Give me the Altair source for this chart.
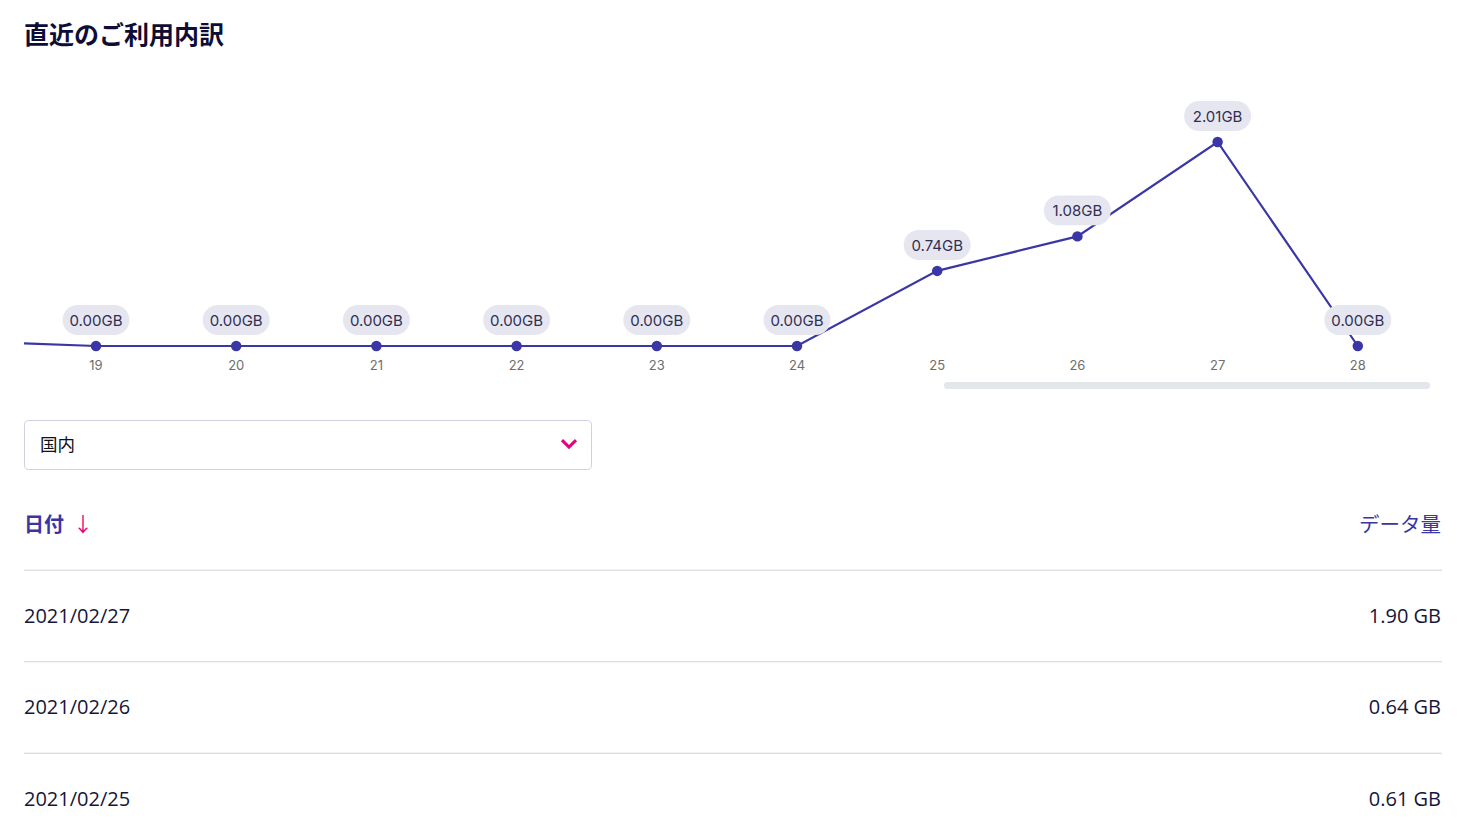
import altair as alt
import pandas as pd

# ---------------- data ----------------
days = [18, 19, 20, 21, 22, 23, 24, 25, 26, 27, 28]
usage_gb = [0.05, 0.00, 0.00, 0.00, 0.00, 0.00, 0.00, 0.74, 1.08, 2.01, 0.00]
tick_labels = ["19", "20", "21", "22", "23", "24", "25", "26", "27", "28"]

table_rows = [0, 1, 2]
table_dates = ["2021/02/27", "2021/02/26", "2021/02/25"]
table_amounts = ["1.90 GB", "0.64 GB", "0.61 GB"]

title_text = "直近のご利用内訳"
dropdown_text = "国内"
header_date = "日付"
header_amount = "データ量"

# ---------------- styling ----------------
W, H = 1418, 808
INK = "#3b36a6"
PILL = "#e6e6f1"
PINK = "#e6007e"
NAVY = "#16163a"
JP = "Noto Sans CJK JP"
LAT = "Inter"
TBL = "Open Sans"

line_df = pd.DataFrame({"day": days, "gb": usage_gb})
pt_df = line_df[line_df["day"] >= 19].copy().reset_index(drop=True)
pt_df["label"] = [f"{v:.2f}GB" for v in pt_df["gb"]]
pt_df["tick"] = tick_labels
pt_df["zero"] = 0.0

# 140.2 px per day, day 19 at plot x = 72
DX = 140.2
x0 = 19 - 72 / DX
xs = alt.Scale(domain=[x0, x0 + W / DX], nice=False, zero=False)
ys = alt.Scale(domain=[-4.6305, 3.3300], nice=False, zero=False)
ts = alt.Scale(domain=[-6.6448, 2.1858], reverse=True, nice=False, zero=False)

X = lambda f: alt.X(f, scale=xs, axis=None)
Y = lambda f: alt.Y(f, scale=ys, axis=None)

line = alt.Chart(line_df).mark_line(color=INK, strokeWidth=2.2, clip=True).encode(
    x=X("day:Q"), y=Y("gb:Q"))

points = alt.Chart(pt_df).mark_circle(color=INK, size=110, opacity=1).encode(
    x=X("day:Q"), y=Y("gb:Q"))

hw = 33.5 / DX
pills = alt.Chart(pt_df).transform_calculate(
    x1=f"datum.day - {hw}", x2=f"datum.day + {hw}",
    y1="datum.gb + 0.1084", y2="datum.gb + 0.4039",
).mark_rect(color=PILL, cornerRadius=15).encode(
    x=X("x1:Q"), x2="x2:Q", y=Y("y1:Q"), y2="y2:Q")

labels = alt.Chart(pt_df).mark_text(
    font=LAT, fontSize=15, color="#2f2f52", baseline="middle", dy=-25
).encode(x=X("day:Q"), y=Y("gb:Q"), text="label:N")

ticks = alt.Chart(pt_df).mark_text(
    font=LAT, fontSize=13, color="#6e6e6e", baseline="middle", dy=20
).encode(x=X("day:Q"), y=Y("zero:Q"), text="tick:N")

one = pd.DataFrame({"a": [0]})
scrollbar = alt.Chart(one).mark_rule(color="#e3e6ea", strokeWidth=7, strokeCap="round").encode(
    x=alt.value(923.5), x2=alt.value(1402.5), y=alt.value(377.5))

title = alt.Chart(pd.DataFrame({"t": [title_text]})).mark_text(
    font=JP, fontSize=25, fontWeight="bold", color="#0d0d35", align="left", baseline="middle"
).encode(x=alt.value(0), y=alt.value(28), text="t:N")

dropdown = alt.Chart(one).mark_rect(
    fill="white", stroke="#cfd0e0", strokeWidth=1, cornerRadius=4
).encode(x=alt.value(0.5), x2=alt.value(567.5), y=alt.value(412.5), y2=alt.value(461.5))

dropdown_label = alt.Chart(pd.DataFrame({"t": [dropdown_text]})).mark_text(
    font=JP, fontSize=17.5, color="#111111", align="left", baseline="middle"
).encode(x=alt.value(16), y=alt.value(438), text="t:N")

chevron = alt.Chart(one).mark_point(
    shape="M-1,-0.55L0,0.45L1,-0.55", filled=False, stroke=PINK, strokeWidth=3, size=196, opacity=1
).encode(x=alt.value(545), y=alt.value(436))

hdr_df = pd.DataFrame({"row": [-1], "d": [header_date], "a": [header_amount], "arr": ["↓"]})
hdr_date = alt.Chart(hdr_df).mark_text(
    font=JP, fontSize=20, fontWeight="bold", color="#3a35a3", align="left", baseline="middle", dy=2
).encode(x=alt.value(0), y=alt.Y("row:Q", scale=ts, axis=None), text="d:N")
hdr_arrow = alt.Chart(hdr_df).mark_text(
    font=JP, fontSize=20, color=PINK, align="center", baseline="middle", dy=2
).encode(x=alt.value(59), y=alt.Y("row:Q", scale=ts, axis=None), text="arr:N")
hdr_amount = alt.Chart(hdr_df).mark_text(
    font=JP, fontSize=20.5, color="#3a35a3", align="right", baseline="middle", dy=2
).encode(x=alt.value(1417), y=alt.Y("row:Q", scale=ts, axis=None), text="a:N")

tbl_df = pd.DataFrame({"row": table_rows, "date": table_dates, "amount": table_amounts})
tbl_df["div"] = tbl_df["row"] - 0.5
dividers = alt.Chart(tbl_df).mark_rule(color="#d2d2de", strokeWidth=1).encode(
    x=alt.value(0), x2=alt.value(1418), y=alt.Y("div:Q", scale=ts, axis=None))
dates = alt.Chart(tbl_df).mark_text(
    font=TBL, fontSize=20, color=NAVY, align="left", baseline="middle", dy=1
).encode(x=alt.value(0), y=alt.Y("row:Q", scale=ts, axis=None), text="date:N")
amounts = alt.Chart(tbl_df).mark_text(
    font=TBL, fontSize=20, color=NAVY, align="right", baseline="middle", dy=1
).encode(x=alt.value(1417), y=alt.Y("row:Q", scale=ts, axis=None), text="amount:N")

chart = alt.layer(
    title, line, points, pills, labels, ticks, scrollbar,
    dropdown, dropdown_label, chevron,
    hdr_date, hdr_arrow, hdr_amount, dividers, dates, amounts,
).resolve_scale(x="independent", y="independent").properties(
    width=W, height=H,
    padding={"left": 16, "top": 0, "right": 0, "bottom": 0},
    autosize=alt.AutoSizeParams(type="none"),
    background="white",
).configure_view(strokeWidth=0)

chart.save("out.html", embed_options={"renderer": "svg", "actions": False})
